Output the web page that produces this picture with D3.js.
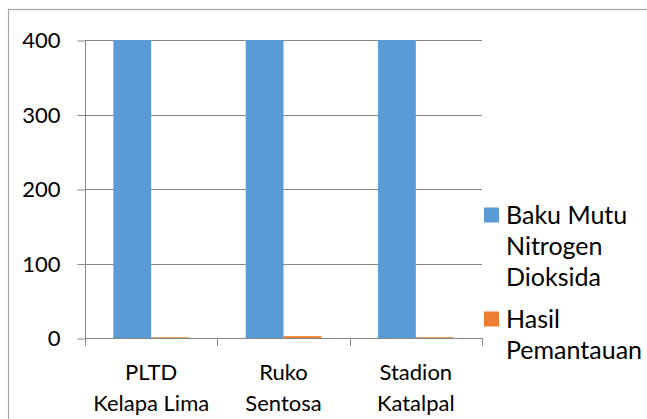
<!DOCTYPE html>
<html>
<head>
<meta charset="utf-8">
<script src="https://cdn.jsdelivr.net/npm/d3@7"></script>
<style>
  html, body { margin: 0; padding: 0; background: #fff; }
  svg text { font-family: Lato, "Open Sans", sans-serif; fill: #000; }
</style>
</head>
<body>
<svg id="chart" width="647" height="419"></svg>
<script>
// Category labels (two lines each) and the two series
const categories = [["PLTD", "Kelapa Lima"], ["Ruko", "Sentosa"], ["Stadion", "Katalpal"]];
const bakuMutu = [400, 400, 400];
const hasilPemantauan = [1, 2.5, 1];
const yTicks = [0, 100, 200, 300, 400];
const seriesNames = [["Baku Mutu", "Nitrogen", "Dioksida"], ["Hasil", "Pemantauan"]];
const colors = ["#5B9BD5", "#ED7D31"];

const svg = d3.select("#chart");

// outer chart frame
svg.append("rect")
  .attr("x", 8.5).attr("y", 9.5)
  .attr("width", 700).attr("height", 450)
  .attr("fill", "none").attr("stroke", "#A6A6A6").attr("stroke-width", 1.2);

const plot = { left: 85, right: 482, top: 40, bottom: 338 };

const x0 = d3.scaleBand()
  .domain(d3.range(categories.length))
  .range([plot.left, plot.right])
  .paddingInner(0).paddingOuter(0);

const x1 = d3.scaleBand()
  .domain([0, 1])
  .range([0, x0.bandwidth()])
  .paddingInner(0)
  .paddingOuter(0.75);

const y = d3.scaleLinear().domain([0, 400]).range([plot.bottom, plot.top]);

// horizontal gridlines
svg.append("g").selectAll("line").data(yTicks.filter(d => d > 0)).join("line")
  .attr("x1", plot.left).attr("x2", plot.right)
  .attr("y1", d => Math.round(y(d)) + 0.5).attr("y2", d => Math.round(y(d)) + 0.5)
  .attr("stroke", "#868686").attr("stroke-width", 1);

// bars
const groups = svg.append("g").selectAll("g").data(categories).join("g")
  .attr("transform", (d, i) => `translate(${x0(i)},0)`);

groups.selectAll("rect")
  .data((d, i) => [bakuMutu[i], hasilPemantauan[i]])
  .join("rect")
  .attr("x", (d, j) => x1(j))
  .attr("width", x1.bandwidth())
  .attr("y", d => y(d))
  .attr("height", d => y(0) - y(d))
  .attr("fill", (d, j) => colors[j]);

// y axis
const yAxis = d3.axisLeft(y).tickValues(yTicks).tickSize(8).tickPadding(17).tickFormat(d3.format("d"));
const gy = svg.append("g").attr("transform", `translate(${plot.left + 0.5},0.5)`).call(yAxis);
gy.select(".domain").attr("stroke", "#868686").attr("d", `M0,${plot.top - 0.5}V${plot.bottom - 0.5}`);
gy.selectAll(".tick line").attr("stroke", "#868686");
gy.selectAll(".tick text").attr("font-size", 22).attr("fill", "#000")
  .style("font-family", "Lato, sans-serif");

// x axis with ticks at category boundaries
const gx = svg.append("g");
gx.append("line")
  .attr("x1", plot.left).attr("x2", plot.right)
  .attr("y1", plot.bottom + 0.5).attr("y2", plot.bottom + 0.5)
  .attr("stroke", "#868686");
const boundaries = d3.range(categories.length + 1).map(i => i < categories.length ? x0(i) : x0(i - 1) + x0.bandwidth());
gx.selectAll("line.tk").data(boundaries).join("line").attr("class", "tk")
  .attr("x1", d => Math.round(d) + 0.5).attr("x2", d => Math.round(d) + 0.5)
  .attr("y1", plot.bottom).attr("y2", plot.bottom + 8)
  .attr("stroke", "#868686");

// category labels
const lbl = svg.append("g").selectAll("text").data(categories).join("text")
  .attr("text-anchor", "middle")
  .attr("font-size", 22);
lbl.selectAll("tspan").data((d, i) => d.map(t => ({ t, i }))).join("tspan")
  .attr("x", d => x0(d.i) + x0.bandwidth() / 2)
  .attr("y", (d, k) => 380 + k * 31)
  .text(d => d.t);

// legend
const legendRows = [215, 319];
const leg = svg.append("g");
seriesNames.forEach((lines, s) => {
  leg.append("rect")
    .attr("x", 484).attr("y", legendRows[s] - 7.5)
    .attr("width", 15).attr("height", 15)
    .attr("fill", colors[s]);
  const t = leg.append("text").attr("font-size", 25);
  lines.forEach((line, k) => {
    t.append("tspan").attr("x", 506).attr("y", legendRows[s] + 9 + k * 31).text(line);
  });
});
</script>
</body>
</html>
